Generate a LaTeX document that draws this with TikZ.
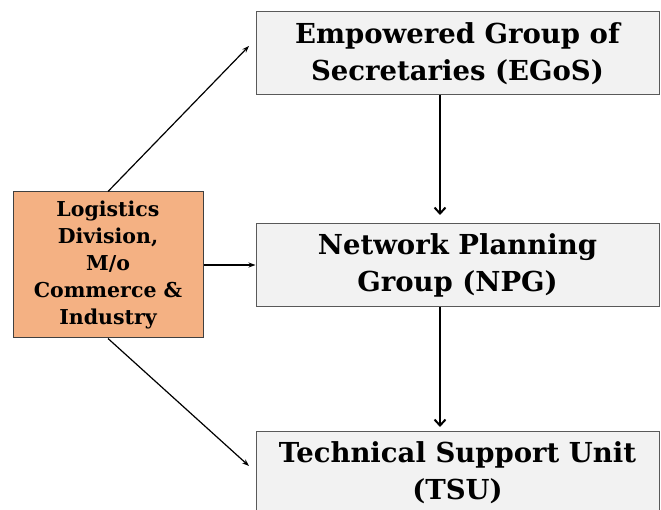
\documentclass[tikz,border=0pt]{standalone}
\usepackage{fontspec}
\setmainfont{DejaVu Serif}
\usetikzlibrary{arrows.meta}

\definecolor{boxgray}{HTML}{F2F2F2}
\definecolor{logorange}{HTML}{F4B183}

\tikzset{
    unitbox/.style={draw=black!65, line width=1pt, fill=boxgray, minimum width=403pt,
        minimum height=83pt, align=center, inner sep=0pt,
        font=\fontsize{27.5}{37}\selectfont\bfseries},
    logbox/.style={draw=black!75, line width=1pt, fill=logorange, minimum width=190pt,
        minimum height=146pt, align=center, inner sep=0pt,
        font=\fontsize{20.5}{27}\selectfont\bfseries},
    flowline/.style={line width=1.2pt, -{Stealth[length=7pt,width=5pt]}},
    downline/.style={line width=2pt, -{Straight Barb[length=6pt,width=11pt]}}
}

\begin{document}
\begin{tikzpicture}[x=1pt, y=-1pt]
    \useasboundingbox (0,0) rectangle (661,510);

    % Boxes
    \node[unitbox] (egos) at (457.5,53.5) {Empowered Group of\\Secretaries (EGoS)};
    \node[unitbox] (npg) at (457.5,265) {Network Planning\\Group (NPG)};
    \node[unitbox] (tsu) at (457.5,473) {Technical Support Unit\\(TSU)};
    \node[logbox] (log) at (108,265) {Logistics\\Division,\\M/o\\Commerce \&\\Industry};

    % Free ends of the slanted arrows
    \coordinate (toegos) at (249,46);
    \coordinate (totsu) at (249,466);

    % Connectors from the division
    \draw[flowline] (log.north) -- (toegos);
    \draw[flowline] (log.east) -- (npg.west);
    \draw[flowline] (log.south) -- (totsu);

    % Chain down the right column
    \draw[downline, shorten >=8pt] ([xshift=-17.5pt]egos.south) -- ([xshift=-17.5pt]npg.north);
    \draw[downline, shorten >=4pt] ([xshift=-17.5pt]npg.south) -- ([xshift=-17.5pt]tsu.north);
\end{tikzpicture}
\end{document}
